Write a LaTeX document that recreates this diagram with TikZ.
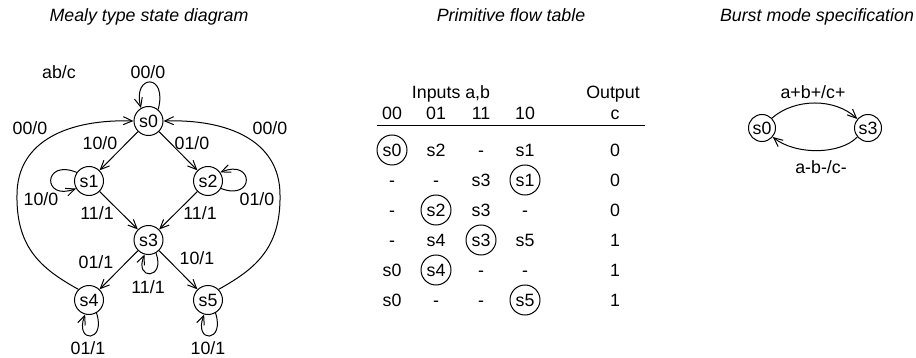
\documentclass[tikz,border=0pt]{standalone}
\usepackage{fontspec}
\setmainfont{Liberation Sans}
\usetikzlibrary{arrows.meta}
\begin{document}
\begin{tikzpicture}[x=0.5pt,y=-0.5pt,
  every node/.style={font=\fontsize{8.9}{10.7}\selectfont, inner sep=0pt, text height=6.4pt, text depth=0pt},
  st/.style={circle, draw, minimum size=14.5pt},
  bst/.style={circle, draw, minimum size=13.5pt},
  cst/.style={circle, draw, minimum size=15pt},
  ttl/.style={font=\fontsize{8.9}{10.7}\selectfont\itshape},
  arr/.style={-{Straight Barb[length=4.5pt,width=4pt]}},
  line width=0.5pt]
\useasboundingbox (0,0) rectangle (916,358);

% titles
\node[ttl] (t1) at (149,15) {Mealy type state diagram};
\node[ttl] (t2) at (511,15) {Primitive flow table};
\node[ttl] (t3) at (817,15) {Burst mode specification};

% Mealy states
\node[st] (s0) at (148.5,121) {s0};
\node[st] (s1) at (89,181) {s1};
\node[st] (s2) at (208,181) {s2};
\node[st] (s3) at (148.5,240) {s3};
\node[st] (s4) at (89,300) {s4};
\node[st] (s5) at (208,300) {s5};

% straight edges
\draw[arr] (s0) -- (s1);
\draw[arr] (s0) -- (s2);
\draw[arr] (s1) -- (s3);
\draw[arr] (s2) -- (s3);
\draw[arr] (s3) -- (s4);
\draw[arr] (s3) -- (s5);

% self loops
\draw[arr] (s0.50) .. controls +(10,-37) and +(-9,-34) .. (s0.120);
\draw[arr] (s1.145) .. controls +(-34,-14) and +(-34,13) .. (s1.210);
\draw[arr] (s2.-30) .. controls +(34,13) and +(34,-14) .. (s2.35);
\draw[arr] (s3.-60) .. controls +(10,27) and +(-11,26) .. (s3.-105);
\draw[arr] (s4.-60) .. controls +(10,30) and +(-11,29) .. (s4.-105);
\draw[arr] (s5.-60) .. controls +(10,30) and +(-11,29) .. (s5.-105);

% big return curves
\coordinate (lm) at (17,195);
\coordinate (rm) at (280,195);
\draw[arr] (s4.135) .. controls (44,270) and (16,250) .. (lm) .. controls (17,140) and (70,119) .. (s0.180);
\draw[arr] (s5.45) .. controls (253,270) and (281,250) .. (rm) .. controls (280,140) and (227,119) .. (s0.0);

% Mealy labels
\node (lab) at (59,72) {ab/c};
\node (l00a) at (148,72) {00/0};
\node (l00b) at (30,128) {00/0};
\node (l00c) at (270,128) {00/0};
\node (l10a) at (100,143) {10/0};
\node (l01a) at (192,143) {01/0};
\node (l10b) at (41,199) {10/0};
\node (l01b) at (257,199) {01/0};
\node (l11a) at (97,213) {11/1};
\node (l11b) at (200,213) {11/1};
\node (l01c) at (96,262) {01/1};
\node (l10c) at (197,258) {10/1};
\node (l11c) at (148,287) {11/1};
\node (l01d) at (88,348) {01/1};
\node (l10d) at (208,348) {10/1};

% flow table
\node (hin) at (451,92) {Inputs a,b};
\node (hout) at (613,92) {Output};
\node (h1) at (392,113) {00};
\node (h2) at (436,113) {01};
\node (h3) at (481,113) {11};
\node (h4) at (525,113) {10};
\node (h5) at (615,113) {c};
\coordinate (la) at (377,126);
\coordinate (lb) at (645,126);
\draw (la) -- (lb);

\node[cst] (r1a) at (392,150) {s0};
\node (r1b) at (436,150) {s2};
\node (r1c) at (481,150) {-};
\node (r1d) at (525,150) {s1};
\node (r1e) at (615,150) {0};

\node (r2a) at (392,180) {-};
\node (r2b) at (436,180) {-};
\node (r2c) at (481,180) {s3};
\node[cst] (r2d) at (525,180) {s1};
\node (r2e) at (615,180) {0};

\node (r3a) at (392,210) {-};
\node[cst] (r3b) at (436,210) {s2};
\node (r3c) at (481,210) {s3};
\node (r3d) at (525,210) {-};
\node (r3e) at (615,210) {0};

\node (r4a) at (392,240) {-};
\node (r4b) at (436,240) {s4};
\node[cst] (r4c) at (481,240) {s3};
\node (r4d) at (525,240) {s5};
\node (r4e) at (615,240) {1};

\node (r5a) at (392,270) {s0};
\node[cst] (r5b) at (436,270) {s4};
\node (r5c) at (481,270) {-};
\node (r5d) at (525,270) {-};
\node (r5e) at (615,270) {1};

\node (r6a) at (392,300) {s0};
\node (r6b) at (436,300) {-};
\node (r6c) at (481,300) {-};
\node[cst] (r6d) at (525,300) {s5};
\node (r6e) at (615,300) {1};

% burst mode
\node[bst] (b0) at (762,128) {s0};
\node[bst] (b3) at (868,128) {s3};
\draw[arr] (b0.45) .. controls (795,98) and (835,98) .. (b3.140);
\draw[arr] (b3.-140) .. controls (840,155) and (795,155) .. (b0.-40);
\node (bl1) at (813,92) {a+b+/c+};
\node (bl2) at (821,167) {a-b-/c-};
\end{tikzpicture}
\end{document}
